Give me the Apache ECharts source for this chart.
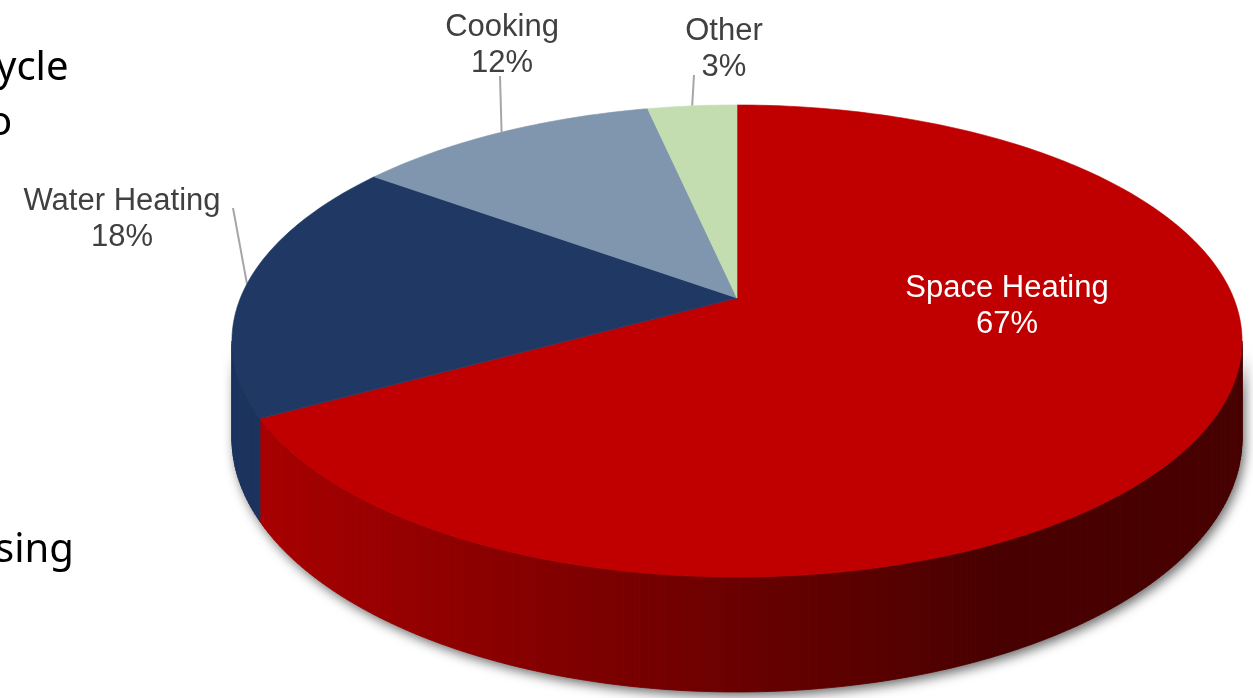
<!DOCTYPE html>
<html><head><meta charset="utf-8">
<script src="https://cdn.jsdelivr.net/npm/echarts@6/dist/echarts.min.js"></script>
<style>html,body{margin:0;padding:0;background:#fff;overflow:hidden}#c{width:1253px;height:698px}</style>
</head><body><div id="c"></div>
<script>
// ---- data ----
const categories = ['Space Heating', 'Water Heating', 'Cooking', 'Other'];
const shares = [67, 18, 11.6, 3.4];
const percentLabels = ['67%', '18%', '12%', '3%'];
const sideFragments = ['ycle', 'o', 'sing'];

// ---- style / layout ----
const topColors = ['#C00000', '#1F3864', '#8096AE', '#C3DDB0'];
const sideColors = [null, '#1C335E', '#6F849C', '#AFC99D'];
const labelLayout = [
  { x: 1007, y: 306, fill: '#FFFFFF', leader: null },
  { x: 122, y: 219, fill: '#404040', leader: [233, 208] },
  { x: 502, y: 45, fill: '#404040', leader: [500, 76] },
  { x: 724, y: 49, fill: '#404040', leader: [694, 75] }
];
const G = { cx: 737, cy: 298, a: 496.6, b: 228.2, k: 0.1822, depth: 94 };

function project(deg, drop) {
  const r = deg * Math.PI / 180;
  const X = Math.sin(r), Z = -Math.cos(r);
  const w = 1 - G.k * Z;
  return [G.cx + G.a * X / w, G.cy + G.b * Z / w + drop / w];
}
function redSide(x) {
  const v = Math.max(72, Math.min(172, 168 - (x - 263) * 0.13));
  return 'rgb(' + Math.round(v) + ',0,0)';
}
const total = shares.reduce((s, v) => s + v, 0);
const visFrom = Math.acos(-G.k) * 180 / Math.PI;
const visTo = 360 - visFrom;

function renderItem(params, api) {
  const i = params.dataIndex;
  let before = 0;
  for (let j = 0; j < i; j++) before += shares[j];
  const start = before / total * 360;
  const end = start + api.value(0) / total * 360;
  const children = [];
  // top face
  const pts = [[G.cx, G.cy]];
  const n = Math.max(2, Math.ceil(end - start));
  for (let s = 0; s <= n; s++) pts.push(project(start + (end - start) * s / n, 0));
  children.push({ type: 'polygon', z2: 10, shape: { points: pts },
    style: { fill: topColors[i], stroke: topColors[i], lineWidth: 0.6 } });
  // visible side wall
  const s0 = Math.max(start, visFrom), s1 = Math.min(end, visTo);
  if (s1 > s0) {
    const m = Math.max(2, Math.ceil((s1 - s0) / 0.8));
    const outline = [];
    for (let s = 0; s <= m; s++) outline.push(project(s0 + (s1 - s0) * s / m, 0));
    for (let s = m; s >= 0; s--) outline.push(project(s0 + (s1 - s0) * s / m, G.depth));
    children.push({ type: 'polygon', z2: 0, shape: { points: outline },
      style: { fill: '#777', shadowBlur: 12, shadowColor: 'rgba(0,0,0,0.6)', shadowOffsetX: 3, shadowOffsetY: 4 } });
    for (let s = 0; s < m; s++) {
      const a0 = s0 + (s1 - s0) * s / m, a1 = s0 + (s1 - s0) * (s + 1) / m;
      const p0 = project(a0, 0), p1 = project(a1, 0), p2 = project(a1, G.depth), p3 = project(a0, G.depth);
      const col = sideColors[i] || redSide((p0[0] + p1[0]) / 2);
      children.push({ type: 'polygon', z2: 1, shape: { points: [p0, p1, p2, p3] },
        style: { fill: col, stroke: col, lineWidth: 0.8 } });
    }
  }
  // label
  const L = labelLayout[i];
  children.push({ type: 'text', z2: 20,
    style: { text: categories[i] + '\n' + percentLabels[i], x: L.x, y: L.y, fill: L.fill,
      fontSize: 31, fontFamily: '"Liberation Sans", Arial, sans-serif', align: 'center',
      verticalAlign: 'middle', lineHeight: 36 } });
  if (L.leader) {
    const mid = (start + end) / 2;
    const e = project(mid, 0);
    children.push({ type: 'line', z2: 5, shape: { x1: L.leader[0], y1: L.leader[1], x2: e[0], y2: e[1] },
      style: { stroke: '#A6A6A6', lineWidth: 2 } });
  }
  return { type: 'group', children };
}

const chart = echarts.init(document.getElementById('c'));
const fragFont = { fontSize: 40, fontFamily: '"Noto Sans", sans-serif', fill: '#000' };
chart.setOption({
  animation: false,
  backgroundColor: '#fff',
  graphic: [
    { type: 'text', left: -4, top: 49, style: Object.assign({ text: sideFragments[0] }, fragFont) },
    { type: 'text', left: -12, top: 104, style: Object.assign({ text: sideFragments[1] }, fragFont) },
    { type: 'text', left: -5, top: 531, style: Object.assign({ text: sideFragments[2] }, fragFont) }
  ],
  series: [{
    type: 'custom', coordinateSystem: 'none', renderItem,
    data: shares.map((v, i) => ({ name: categories[i], value: [v] }))
  }]
});
</script>
</body></html>
